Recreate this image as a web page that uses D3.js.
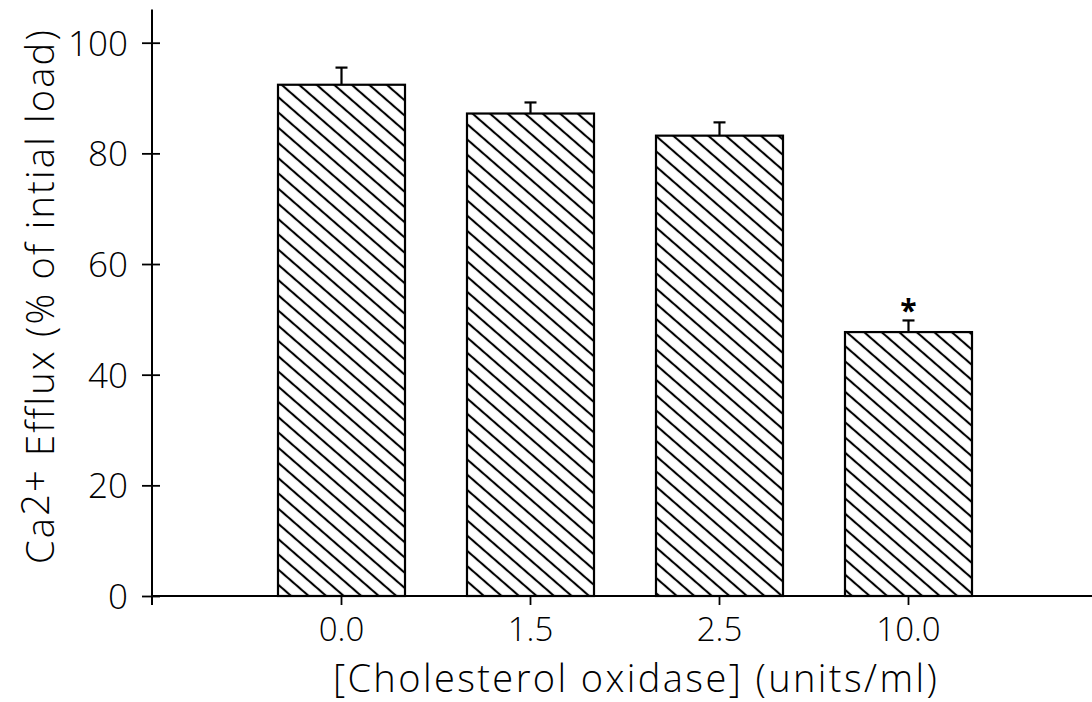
<!DOCTYPE html>
<html>
<head>
<meta charset="utf-8">
<script src="https://cdn.jsdelivr.net/npm/d3@7"></script>
<style>
  html, body { margin: 0; padding: 0; background: #fff; }
  svg { display: block; }
  text { font-family: "Open Sans", "DejaVu Sans", sans-serif; font-weight: 300; fill: #000; }
</style>
</head>
<body>
<svg id="chart" width="1092" height="702"></svg>
<script>
// Cholesterol oxidase concentrations (units/ml)
const doses = ["0.0", "1.5", "2.5", "10.0"];
// Ca2+ efflux, % of initial load (mean)
const efflux = [92.4, 87.2, 83.2, 47.7];
// Standard error (upper whisker only)
const sem = [3.1, 2.0, 2.4, 2.1];
// Significance marks
const marks = ["", "", "", "*"];
const yTicks = [0, 20, 40, 60, 80, 100];

const svg = d3.select("#chart");

const x = d3.scaleBand()
  .domain(doses)
  .range([247, 1003])
  .paddingInner(0.328)
  .paddingOuter(0.164);

const y = d3.scaleLinear().domain([0, 100]).range([596, 42.7]);

const axisX0 = 152;
const fontStack = "Open Sans, DejaVu Sans, sans-serif";

// diagonal hatching for bar fill
const defs = svg.append("defs");
const pat = defs.append("pattern")
  .attr("id", "hatch")
  .attr("patternUnits", "userSpaceOnUse")
  .attr("width", 11.5)
  .attr("height", 11.5)
  .attr("patternTransform", "rotate(41)");
pat.append("rect").attr("width", 11.5).attr("height", 11.5).attr("fill", "#fff");
pat.append("line")
  .attr("x1", 0).attr("x2", 11.5)
  .attr("y1", 5.75).attr("y2", 5.75)
  .attr("stroke", "#000").attr("stroke-width", 2.1);

// bars
svg.append("g").selectAll("rect")
  .data(doses)
  .join("rect")
  .attr("x", d => x(d))
  .attr("width", x.bandwidth())
  .attr("y", (d, i) => y(efflux[i]))
  .attr("height", (d, i) => y(0) - y(efflux[i]))
  .attr("fill", "url(#hatch)")
  .attr("stroke", "#000")
  .attr("stroke-width", 2.2);

// error bars (upward only)
const eb = svg.append("g").attr("stroke", "#000").attr("stroke-width", 2.2);
doses.forEach((d, i) => {
  const cx = x(d) + x.bandwidth() / 2;
  eb.append("line")
    .attr("x1", cx).attr("x2", cx)
    .attr("y1", y(efflux[i])).attr("y2", y(efflux[i] + sem[i]));
  eb.append("line")
    .attr("x1", cx - 6).attr("x2", cx + 6)
    .attr("y1", y(efflux[i] + sem[i])).attr("y2", y(efflux[i] + sem[i]));
});

// significance asterisk
svg.append("g").selectAll("text")
  .data(doses)
  .join("text")
  .attr("x", d => x(d) + x.bandwidth() / 2)
  .attr("y", (d, i) => y(efflux[i] + sem[i]) + 1)
  .attr("text-anchor", "middle")
  .attr("font-family", "DejaVu Sans, sans-serif")
  .attr("font-size", 30)
  .style("font-weight", "bold")
  .text((d, i) => marks[i]);

// y axis
const yAxis = d3.axisLeft(y)
  .tickValues(yTicks)
  .tickSize(10)
  .tickSizeOuter(0)
  .tickPadding(14);
const gy = svg.append("g")
  .attr("transform", `translate(${axisX0},0)`)
  .call(yAxis);
gy.select(".domain").remove();
gy.selectAll(".tick line")
  .attr("x1", -10).attr("x2", 8)
  .attr("stroke", "#000").attr("stroke-width", 1.8);
gy.selectAll(".tick text")
  .attr("font-size", 35)
  .attr("font-family", fontStack)
  .attr("dy", "0.36em");
gy.append("line")
  .attr("x1", 0).attr("x2", 0)
  .attr("y1", y(0) + 9).attr("y2", y(106))
  .attr("stroke", "#000").attr("stroke-width", 2);

// x axis
const xAxis = d3.axisBottom(x)
  .tickSize(9)
  .tickSizeOuter(0)
  .tickPadding(13);
const gx = svg.append("g")
  .attr("transform", `translate(0,${y(0)})`)
  .call(xAxis);
gx.select(".domain").remove();
gx.selectAll(".tick line").attr("stroke", "#000").attr("stroke-width", 1.8);
gx.selectAll(".tick text")
  .attr("font-size", 33)
  .attr("font-family", fontStack);
gx.append("line")
  .attr("x1", axisX0).attr("x2", 1092)
  .attr("y1", 0).attr("y2", 0)
  .attr("stroke", "#000").attr("stroke-width", 2.2);

// axis titles
svg.append("text")
  .attr("x", 636)
  .attr("y", 692)
  .attr("text-anchor", "middle")
  .attr("font-size", 38)
  .attr("letter-spacing", 2.4)
  .text("[Cholesterol oxidase] (units/ml)");

const yt = svg.append("text")
  .attr("transform", "translate(54,296) rotate(-90)")
  .attr("text-anchor", "middle")
  .attr("font-size", 38)
  .attr("letter-spacing", 2.2);
yt.append("tspan").text("Ca");
yt.append("tspan").attr("dy", -5).text("2+");
yt.append("tspan").attr("dy", 5).text(" Efflux (% of intial load)");
</script>
</body>
</html>
